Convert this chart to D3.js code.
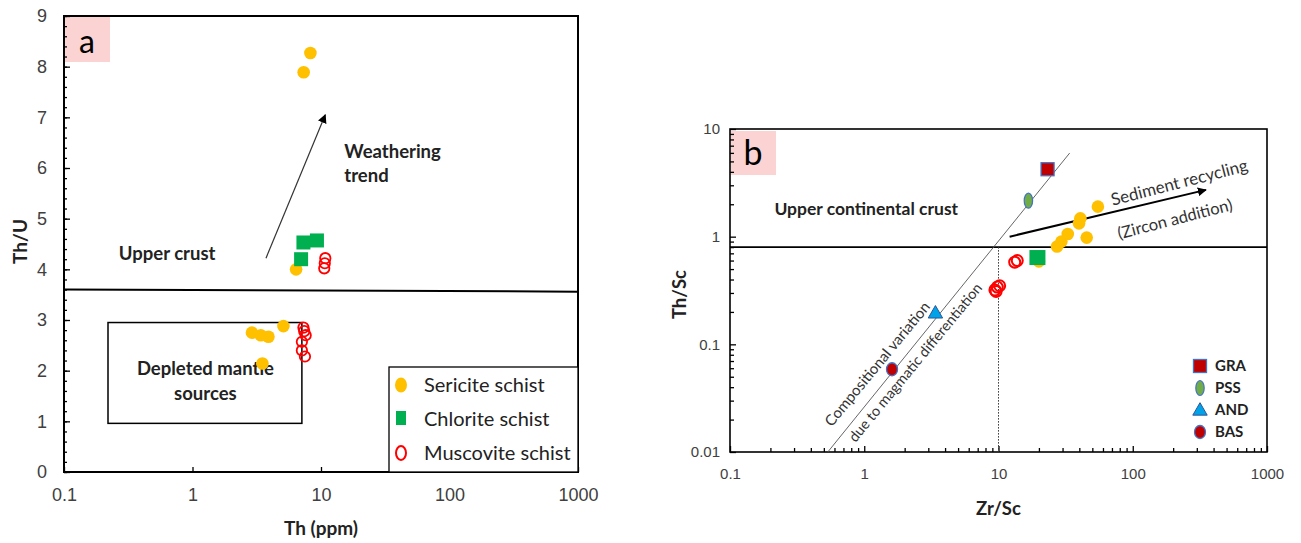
<!DOCTYPE html>
<html>
<head>
<meta charset="utf-8">
<title>Th/U and Th/Sc diagrams</title>
<script src="https://d3js.org/d3.v7.min.js"></script>
<style>
    body { margin: 0; background: #fff; }
    svg { font-family: Lato, "Open Sans", sans-serif; }
    .tick text { fill: #404040; }
</style>
</head>
<body>
<svg id="chart" width="1301" height="543"></svg>
<script>
// ---- panel a data : [Th (ppm), Th/U]
var sericiteA = [[8.27, 8.27], [7.33, 7.89], [6.4, 4.0], [2.9, 2.75], [3.4, 2.70], [3.9, 2.67], [5.1, 2.88], [3.5, 2.14]]
var chloriteA = [[7.3, 4.53], [9.3, 4.57], [7.0, 4.2]]
var muscoviteA = [[10.8, 4.22], [10.7, 4.12], [10.6, 4.02], [7.3, 2.85], [7.4, 2.78], [7.6, 2.70], [7.1, 2.57], [7.1, 2.40], [7.5, 2.28]]
var upperCrustA = [[0.1, 3.6], [1000, 3.56]]
var depletedBox = {x0: 0.22, x1: 7.1, y0: 0.96, y1: 2.95}
var weatheringArrow = [[3.73, 4.22], [10.8, 7.05]]
var xTicksA = [0.1, 1, 10, 100, 1000]
var yTicksA = [0, 1, 2, 3, 4, 5, 6, 7, 8, 9]

// ---- panel b data : [Zr/Sc, Th/Sc]
var sericiteB = [[55, 1.90], [40.7, 1.48], [39.8, 1.33], [32.8, 1.06], [29.4, 0.90], [27.3, 0.81], [45.4, 0.98], [20, 0.59]]
var chloriteB = [[19.5, 0.64]]
var muscoviteB = [[13.2, 0.58], [13.8, 0.60], [9.4, 0.32], [9.8, 0.34], [10.2, 0.35], [9.6, 0.31]]
var gra = [[23.2, 4.23]]
var pss = [[16.7, 2.16]]
var andesite = [[3.39, 0.196]]
var bas = [[1.61, 0.0587]]
var ucc = 0.8
var magmaticLine = [[0.535, 0.01], [33.9, 5.98]]
var recyclingArrow = [[12.1, 1.0], [351, 2.72]]
var xTicksB = [0.1, 1, 10, 100, 1000]
var yTicksB = [0.01, 0.1, 1, 10]

var legendA = ["Sericite schist", "Chlorite schist", "Muscovite schist"]
var legendB = ["GRA", "PSS", "AND", "BAS"]

var orange = "#ffc000", green = "#00b050", red = "#ff0000", blue = "#4472c4"

var svg = d3.select("#chart")
svg.append("defs").append("marker")
    .attr("id", "head")
    .attr("viewBox", "0 0 10 10")
    .attr("refX", 9).attr("refY", 5)
    .attr("markerWidth", 9).attr("markerHeight", 9)
    .attr("markerUnits", "userSpaceOnUse")
    .attr("orient", "auto")
    .append("path").attr("d", "M0,0L10,5L0,10z").attr("fill", "#000")

var fmt = function(d) { return d >= 1 ? d3.format("d")(d) : String(d) }

// ===================== panel a =====================
var xa = d3.scaleLog().domain([0.1, 1000]).range([64, 578])
var ya = d3.scaleLinear().domain([0, 9]).range([472, 16])
var ga = svg.append("g")

ga.append("rect").attr("x", xa(0.1)).attr("y", ya(9)).attr("width", 46).attr("height", 46).attr("fill", "#fbd3d3")
ga.append("text").attr("x", xa(0.1) + 23).attr("y", ya(9) + 37).attr("text-anchor", "middle")
    .style("font-size", "32px").text("a")

var axLeftA = ga.append("g").attr("transform", "translate(" + xa(0.1) + ",0)")
    .call(d3.axisLeft(ya).tickValues(yTicksA).tickSize(-6).tickPadding(17).tickFormat(d3.format("d")))
axLeftA.selectAll("text").style("font-size", "18px")
ga.append("g").attr("transform", "translate(" + xa(0.1) + ",0)")
    .call(d3.axisLeft(ya).tickValues(d3.range(0, 9.01, 0.2)).tickSize(-3).tickFormat(""))
var axBotA = ga.append("g").attr("transform", "translate(0," + ya(0) + ")")
    .call(d3.axisBottom(xa).tickValues(xTicksA).tickSize(-5).tickPadding(16).tickFormat(fmt))
axBotA.selectAll("text").style("font-size", "18px")
ga.selectAll(".domain").remove()
ga.selectAll(".tick line").attr("stroke", "#000").attr("stroke-width", 1.3)

ga.append("rect").attr("x", xa(0.1)).attr("y", ya(9))
    .attr("width", xa(1000) - xa(0.1)).attr("height", ya(0) - ya(9))
    .attr("fill", "none").attr("stroke", "#000").attr("stroke-width", 2)

ga.append("text").attr("transform", "translate(27," + (ya(4.55)) + ")rotate(-90)")
    .attr("text-anchor", "middle").style("font-size", "19px").style("font-weight", "bold").attr("fill", "#222").text("Th/U")
ga.append("text").attr("x", xa(10)).attr("y", 535).attr("text-anchor", "middle")
    .style("font-size", "19px").style("font-weight", "bold").attr("fill", "#222").text("Th (ppm)")

ga.append("line").attr("x1", xa(upperCrustA[0][0])).attr("y1", ya(upperCrustA[0][1]))
    .attr("x2", xa(upperCrustA[1][0])).attr("y2", ya(upperCrustA[1][1]))
    .attr("stroke", "#000").attr("stroke-width", 2)
ga.append("rect").attr("x", xa(depletedBox.x0)).attr("y", ya(depletedBox.y1))
    .attr("width", xa(depletedBox.x1) - xa(depletedBox.x0)).attr("height", ya(depletedBox.y0) - ya(depletedBox.y1))
    .attr("fill", "none").attr("stroke", "#000").attr("stroke-width", 1.5)
ga.append("line").attr("x1", xa(weatheringArrow[0][0])).attr("y1", ya(weatheringArrow[0][1]))
    .attr("x2", xa(weatheringArrow[1][0])).attr("y2", ya(weatheringArrow[1][1]))
    .attr("stroke", "#333").attr("stroke-width", 1.2).attr("marker-end", "url(#head)")

var annA = ga.append("g").style("font-size", "18.5px").style("font-weight", "bold").attr("fill", "#222")
annA.append("text").attr("x", xa(0.635)).attr("y", ya(4.32) + 7).attr("text-anchor", "middle").text("Upper crust")
annA.append("text").attr("x", xa(15.2)).attr("y", ya(6.34) + 7).text("Weathering")
annA.append("text").attr("x", xa(15.2)).attr("y", ya(5.86) + 7).text("trend")
annA.append("text").attr("x", xa(1.26)).attr("y", ya(2.05) + 7).attr("text-anchor", "middle").text("Depleted mantle")
annA.append("text").attr("x", xa(1.26)).attr("y", ya(1.56) + 7).attr("text-anchor", "middle").text("sources")

ga.selectAll(".ser").data(sericiteA).enter().append("circle")
    .attr("cx", function(d) { return xa(d[0]) }).attr("cy", function(d) { return ya(d[1]) })
    .attr("r", 6.3).attr("fill", orange)
ga.selectAll(".chl").data(chloriteA).enter().append("rect")
    .attr("x", function(d) { return xa(d[0]) - 7 }).attr("y", function(d) { return ya(d[1]) - 7 })
    .attr("width", 14).attr("height", 14).attr("fill", green)
ga.selectAll(".mus").data(muscoviteA).enter().append("circle")
    .attr("cx", function(d) { return xa(d[0]) }).attr("cy", function(d) { return ya(d[1]) })
    .attr("r", 5.2).attr("fill", "none").attr("stroke", red).attr("stroke-width", 1.8)

// legend a
var lgA = ga.append("g")
lgA.append("rect").attr("x", 389).attr("y", 367).attr("width", xa(1000) - 389).attr("height", ya(0) - 367)
    .attr("fill", "#fff").attr("stroke", "#000").attr("stroke-width", 1.3)
lgA.selectAll("text").data(legendA).enter().append("text")
    .attr("x", 424).attr("y", function(d, i) { return 385 + i * 34 + 7 })
    .style("font-size", "20px").attr("fill", "#222").text(function(d) { return d })
lgA.append("ellipse").attr("cx", 401).attr("cy", 385).attr("rx", 6).attr("ry", 7.5).attr("fill", orange)
lgA.append("rect").attr("x", 396).attr("y", 411).attr("width", 10).attr("height", 14).attr("fill", green)
lgA.append("ellipse").attr("cx", 401).attr("cy", 453).attr("rx", 5).attr("ry", 7)
    .attr("fill", "none").attr("stroke", red).attr("stroke-width", 2)

// ===================== panel b =====================
var xb = d3.scaleLog().domain([0.1, 1000]).range([730, 1267])
var yb = d3.scaleLog().domain([0.01, 10]).range([452, 129])
var gb = svg.append("g")

gb.append("rect").attr("x", xb(0.1) + 1).attr("y", yb(10) + 2).attr("width", 45).attr("height", 44).attr("fill", "#fbd3d3")
gb.append("text").attr("x", xb(0.1) + 23).attr("y", yb(10) + 36).attr("text-anchor", "middle")
    .style("font-size", "34px").text("b")

var minorB = function(lo, hi) {
    var out = []
    for (var e = lo; e < hi; e++) for (var k = 2; k < 10; k++) out.push(k * Math.pow(10, e))
    return out
}
var axLeftB = gb.append("g").attr("transform", "translate(" + xb(0.1) + ",0)")
    .call(d3.axisLeft(yb).tickValues(yTicksB).tickSize(-6).tickPadding(10).tickFormat(fmt))
axLeftB.selectAll("text").style("font-size", "15px")
gb.append("g").attr("transform", "translate(" + xb(0.1) + ",0)")
    .call(d3.axisLeft(yb).tickValues(minorB(-2, 1)).tickSize(-4).tickFormat(""))
var axBotB = gb.append("g").attr("transform", "translate(0," + yb(0.01) + ")")
    .call(d3.axisBottom(xb).tickValues(xTicksB).tickSize(-6).tickPadding(16).tickFormat(fmt))
axBotB.selectAll("text").style("font-size", "15px")
gb.append("g").attr("transform", "translate(0," + yb(0.01) + ")")
    .call(d3.axisBottom(xb).tickValues(minorB(-1, 3)).tickSize(-4).tickFormat(""))
gb.selectAll(".domain").remove()
gb.selectAll(".tick line").attr("stroke", "#000").attr("stroke-width", 1.3)

gb.append("rect").attr("x", xb(0.1)).attr("y", yb(10))
    .attr("width", xb(1000) - xb(0.1)).attr("height", yb(0.01) - yb(10))
    .attr("fill", "none").attr("stroke", "#000").attr("stroke-width", 1.6)

gb.append("text").attr("transform", "translate(686," + yb(0.29) + ")rotate(-90)")
    .attr("text-anchor", "middle").style("font-size", "18.5px").style("font-weight", "bold").attr("fill", "#222").text("Th/Sc")
gb.append("text").attr("x", xb(10)).attr("y", 515).attr("text-anchor", "middle")
    .style("font-size", "18.5px").style("font-weight", "bold").attr("fill", "#222").text("Zr/Sc")

gb.append("line").attr("x1", xb(0.1)).attr("x2", xb(1000)).attr("y1", yb(ucc)).attr("y2", yb(ucc))
    .attr("stroke", "#000").attr("stroke-width", 1.6)
gb.append("line").attr("x1", xb(10)).attr("x2", xb(10)).attr("y1", yb(ucc)).attr("y2", yb(0.01))
    .attr("stroke", "#333").attr("stroke-width", 1).attr("stroke-dasharray", "1.5,1.5")
gb.append("line").attr("x1", xb(magmaticLine[0][0])).attr("y1", yb(magmaticLine[0][1]))
    .attr("x2", xb(magmaticLine[1][0])).attr("y2", yb(magmaticLine[1][1]))
    .attr("stroke", "#555").attr("stroke-width", 0.9)
gb.append("line").attr("x1", xb(recyclingArrow[0][0])).attr("y1", yb(recyclingArrow[0][1]))
    .attr("x2", xb(recyclingArrow[1][0])).attr("y2", yb(recyclingArrow[1][1]))
    .attr("stroke", "#000").attr("stroke-width", 2).attr("marker-end", "url(#head)")

var rotText = function(x, y, ang, txt, size, weight) {
    gb.append("text").attr("transform", "translate(" + x + "," + y + ")rotate(" + ang + ")")
        .attr("text-anchor", "middle").attr("dy", "0.35em").attr("fill", "#333")
        .style("font-size", size).style("font-weight", weight || "normal").text(txt)
}
gb.append("text").attr("x", xb(1.035)).attr("y", yb(1.81)).attr("dy", "0.35em").attr("text-anchor", "middle")
    .style("font-size", "17.5px").style("font-weight", "bold").attr("fill", "#222").text("Upper continental crust")
rotText(xb(1.25), yb(0.0658), -50.5, "Compositional variation", "15px")
rotText(xb(2.40), yb(0.068), -50.5, "due to magmatic differentiation", "14.5px")
rotText(xb(222), yb(3.19), -14.5, "Sediment recycling", "17px")
rotText(xb(206), yb(1.46), -14.5, "(Zircon addition)", "16.5px")

gb.selectAll(".serb").data(sericiteB).enter().append("circle")
    .attr("cx", function(d) { return xb(d[0]) }).attr("cy", function(d) { return yb(d[1]) })
    .attr("r", 6.3).attr("fill", orange)
gb.selectAll(".chlb").data(chloriteB).enter().append("rect")
    .attr("x", function(d) { return xb(d[0]) - 8 }).attr("y", function(d) { return yb(d[1]) - 7.5 })
    .attr("width", 16).attr("height", 15).attr("fill", green)
gb.selectAll(".musb").data(muscoviteB).enter().append("circle")
    .attr("cx", function(d) { return xb(d[0]) }).attr("cy", function(d) { return yb(d[1]) })
    .attr("r", 5.5).attr("fill", "none").attr("stroke", red).attr("stroke-width", 2)

var sq = function(g, x, y) {
    g.append("rect").attr("x", x - 6.5).attr("y", y - 6.5).attr("width", 13).attr("height", 13)
        .attr("fill", "#c00000").attr("stroke", blue).attr("stroke-width", 1.3)
}
var ell = function(g, x, y) {
    g.append("ellipse").attr("cx", x).attr("cy", y).attr("rx", 4.2).attr("ry", 7.5)
        .attr("fill", "#70ad47").attr("stroke", blue).attr("stroke-width", 1.2)
}
var tri = function(g, x, y) {
    g.append("path").attr("d", d3.symbol(d3.symbolTriangle, 90)()).attr("transform", "translate(" + x + "," + (y + 1) + ")")
        .attr("fill", "#00a2e8").attr("stroke", "#2f5597").attr("stroke-width", 1)
}
var dot = function(g, x, y) {
    g.append("ellipse").attr("cx", x).attr("cy", y).attr("rx", 5.5).attr("ry", 6.5)
        .attr("fill", "#c00000").attr("stroke", blue).attr("stroke-width", 1.3)
}
gra.forEach(function(d) { sq(gb, xb(d[0]), yb(d[1])) })
pss.forEach(function(d) { ell(gb, xb(d[0]), yb(d[1])) })
andesite.forEach(function(d) { tri(gb, xb(d[0]), yb(d[1])) })
bas.forEach(function(d) { dot(gb, xb(d[0]), yb(d[1])) })

// legend b
var lgB = gb.append("g")
var drawers = [sq, ell, tri, dot]
legendB.forEach(function(name, i) {
    var yy = 366 + i * 22
    drawers[i](lgB, 1200, yy)
    lgB.append("text").attr("x", 1215).attr("y", yy).attr("dy", "0.35em")
        .style("font-size", "15px").style("font-weight", "bold").attr("fill", "#222").text(name)
})
</script>
</body>
</html>
